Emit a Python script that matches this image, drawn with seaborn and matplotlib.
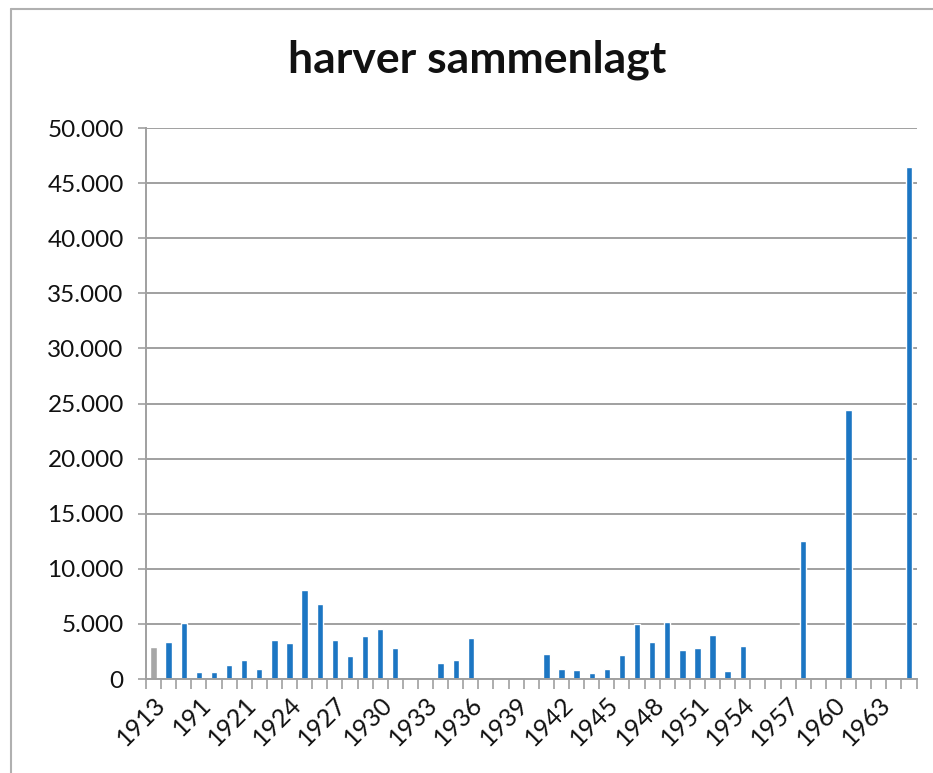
import matplotlib
matplotlib.use("Agg")
import matplotlib.pyplot as plt
from matplotlib.lines import Line2D
from matplotlib.ticker import FuncFormatter, FixedLocator
import seaborn as sns
import pandas as pd

# --- Data ---
years = (["1913", "1914", "1915", "191", "1919", "1920"]
         + [str(y) for y in range(1921, 1966)])
harver = [2900, 3400, 5100, 600, 600, 1300,
          1700, 900, 3500, 3300, 8100, 6800, 3500, 2100, 3900, 4500,
          2800, 0, 0, 1450, 1700, 3750, 0, 0, 0, 0,
          2300, 950, 850, 500, 880, 2200, 5000, 3400, 5150, 2650,
          2800, 4000, 750, 3000, 0, 0, 0, 12500, 0, 0,
          24400, 0, 0, 0, 46500]
title = "harver sammenlagt"
y_ticks = [0, 5000, 10000, 15000, 20000, 25000, 30000, 35000, 40000, 45000, 50000]

BLUE = "#1C76C3"
GREY = "#A6A6A6"
AXIS_GREY = "#A0A0A0"

df = pd.DataFrame({"year": years, "harver": harver})
palette = {y: (GREY if i == 0 else BLUE) for i, y in enumerate(years)}

sns.set_style("white")
plt.rcParams["font.family"] = ["Lato", "DejaVu Sans"]

fig = plt.figure(figsize=(9.33, 7.73), dpi=100)
ax = fig.add_axes([146 / 933, 1 - 679 / 773, (916.5 - 146) / 933, (679 - 128) / 773])

sns.barplot(data=df, x="year", y="harver", hue="year", palette=palette,
            order=years, width=0.42, legend=False, ax=ax, saturation=1)

ax.set_ylim(0, 50000)
ax.set_xlim(-0.5, len(years) - 0.5)
ax.yaxis.set_major_locator(FixedLocator(y_ticks))
ax.yaxis.set_major_formatter(FuncFormatter(lambda v, p: f"{int(v):,}".replace(",", ".")))
ax.grid(axis="y", color=AXIS_GREY, linewidth=1.4)
ax.set_axisbelow(True)

# category labels every third bar, boundary tick marks below axis
ax.set_xticks(range(0, len(years), 3))
ax.set_xticklabels([years[i] for i in range(0, len(years), 3)],
                   rotation=45, ha="right", rotation_mode="anchor")
ax.set_xticks([i - 0.5 for i in range(len(years) + 1)], minor=True)
ax.tick_params(axis="x", which="major", bottom=False, length=0, pad=10,
               labelsize=18, labelcolor="#111111")
ax.tick_params(axis="x", which="minor", bottom=True, length=7, color=AXIS_GREY,
               width=1.2, direction="out")
ax.tick_params(axis="y", left=True, length=6, color=AXIS_GREY, width=1.2, pad=10,
               labelsize=17.5, labelcolor="#111111")
ax.set_xlabel("")
ax.set_ylabel("")

for side in ["top", "right"]:
    ax.spines[side].set_visible(False)
for side in ["left", "bottom"]:
    ax.spines[side].set_color(AXIS_GREY)
    ax.spines[side].set_linewidth(1.4)

fig.text(477 / 933, 1 - 60 / 773, title, ha="center", va="center",
         fontsize=32, fontweight="bold", color="#111111")

# chart area frame (left and top edges visible in the scan)
fig.add_artist(Line2D([11 / 933, 11 / 933], [0, 1 - 9 / 773], color="#B0B0B0", linewidth=1.5))
fig.add_artist(Line2D([11 / 933, 1], [1 - 9 / 773, 1 - 9 / 773], color="#B0B0B0", linewidth=1.5))

fig.savefig("out.png", dpi=100)
